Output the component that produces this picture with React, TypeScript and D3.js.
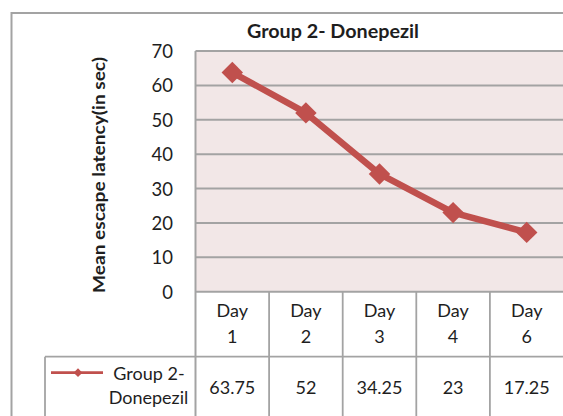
import React from "react";
import * as d3 from "d3";

const days = ["Day 1", "Day 2", "Day 3", "Day 4", "Day 6"];
const dayLines = [["Day", "1"], ["Day", "2"], ["Day", "3"], ["Day", "4"], ["Day", "6"]];
const values = [63.75, 52, 34.25, 23, 17.25];
const valueLabels = ["63.75", "52", "34.25", "23", "17.25"];
const yTicks = [0, 10, 20, 30, 40, 50, 60, 70];
const seriesName = ["Group 2-", "Donepezil"];
const chartTitle = "Group 2- Donepezil";
const yTitle = "Mean escape latency(in sec)";

const W = 563;
const H = 416;
const FONT = "Lato, 'Open Sans', sans-serif";
const RED = "#c0504d";
const GRID = "#a3a3a3";
const TXT = "#1e1e1e";

export default function App() {
  const plotL = 195.5;
  const plotR = 563.5;
  const plotT = 51;
  const plotB = 291.7;
  const rowMid = 356.7;
  const tableL = 45;

  const x = d3.scaleBand<string>().domain(days).range([plotL, plotR]);
  const y = d3.scaleLinear().domain([0, 70]).range([plotB, plotT]);

  const line = d3
    .line<number>()
    .x((_, i) => (x(days[i]) as number) + x.bandwidth() / 2)
    .y((d) => y(d));

  const diamond = d3.symbol(d3.symbolSquare, 230)();
  const smallDiamond = d3.symbol(d3.symbolSquare, 38)();

  const colEdges = days.map((d) => x(d) as number);

  return (
    <svg
      width={W}
      height={H}
      style={{ position: "absolute", left: 0, top: 0, background: "#fff" }}
      fontFamily={FONT}
    >
      {/* outer chart border */}
      <rect x={11.5} y={13} width={700} height={500} fill="#fff" stroke={GRID} strokeWidth={2} />

      {/* title */}
      <text
        x={333}
        y={31}
        textAnchor="middle"
        dominantBaseline="central"
        fontWeight="bold"
        fontSize={18}
        fill={TXT}
        textLength={172}
        lengthAdjust="spacingAndGlyphs"
      >
        {chartTitle}
      </text>

      {/* plot background */}
      <rect x={plotL} y={plotT} width={plotR - plotL} height={plotB - plotT} fill="#f2e7e7" />

      {/* gridlines */}
      {yTicks.map((t) => (
        <line key={t} x1={plotL} x2={plotR} y1={y(t)} y2={y(t)} stroke={GRID} strokeWidth={2} />
      ))}
      <line x1={plotL} x2={plotL} y1={plotT} y2={H + 5} stroke={GRID} strokeWidth={2} />

      {/* y tick labels */}
      {yTicks.map((t) => (
        <text
          key={t}
          x={173}
          y={y(t)}
          textAnchor="end"
          dominantBaseline="central"
          fontSize={18.5}
          fill={TXT}
        >
          {t}
        </text>
      ))}

      {/* y axis title */}
      <text
        transform={`translate(98, 175) rotate(-90)`}
        textAnchor="middle"
        dominantBaseline="central"
        fontWeight="bold"
        fontSize={17}
        fill={TXT}
        textLength={236}
        lengthAdjust="spacingAndGlyphs"
      >
        {yTitle}
      </text>

      {/* data table lines */}
      {colEdges.slice(1).map((cx, i) => (
        <line key={i} x1={cx} x2={cx} y1={plotB} y2={H + 5} stroke={GRID} strokeWidth={1.8} />
      ))}
      <line x1={tableL} x2={plotR} y1={rowMid} y2={rowMid} stroke={GRID} strokeWidth={1.8} />
      <line x1={tableL} x2={tableL} y1={rowMid} y2={H + 5} stroke={GRID} strokeWidth={1.8} />

      {/* header cells */}
      {dayLines.map((dl, i) => {
        const cx = (x(days[i]) as number) + x.bandwidth() / 2;
        return (
          <g key={i}>
            <text x={cx} y={310} textAnchor="middle" dominantBaseline="central" fontSize={18} fill={TXT}>
              {dl[0]}
            </text>
            <text x={cx} y={335.5} textAnchor="middle" dominantBaseline="central" fontSize={18} fill={TXT}>
              {dl[1]}
            </text>
          </g>
        );
      })}

      {/* value cells */}
      {valueLabels.map((v, i) => {
        const cx = (x(days[i]) as number) + x.bandwidth() / 2;
        return (
          <text key={i} x={cx} y={387} textAnchor="middle" dominantBaseline="central" fontSize={18} fill={TXT}>
            {v}
          </text>
        );
      })}

      {/* legend key */}
      <line x1={51} x2={103} y1={372.7} y2={372.7} stroke={RED} strokeWidth={2.8} />
      <path d={smallDiamond as string} transform="translate(78,372.7) rotate(45)" fill={RED} />
      <text x={149} y={373} textAnchor="middle" dominantBaseline="central" fontSize={18} fill={TXT}>
        {seriesName[0]}
      </text>
      <text x={148.5} y={397} textAnchor="middle" dominantBaseline="central" fontSize={18} fill={TXT}>
        {seriesName[1]}
      </text>

      {/* series line */}
      <path d={line(values) as string} fill="none" stroke={RED} strokeWidth={6.5} strokeLinejoin="round" />
      {values.map((v, i) => (
        <path
          key={i}
          d={diamond as string}
          transform={`translate(${(x(days[i]) as number) + x.bandwidth() / 2},${y(v)}) rotate(45)`}
          fill={RED}
        />
      ))}
    </svg>
  );
}
